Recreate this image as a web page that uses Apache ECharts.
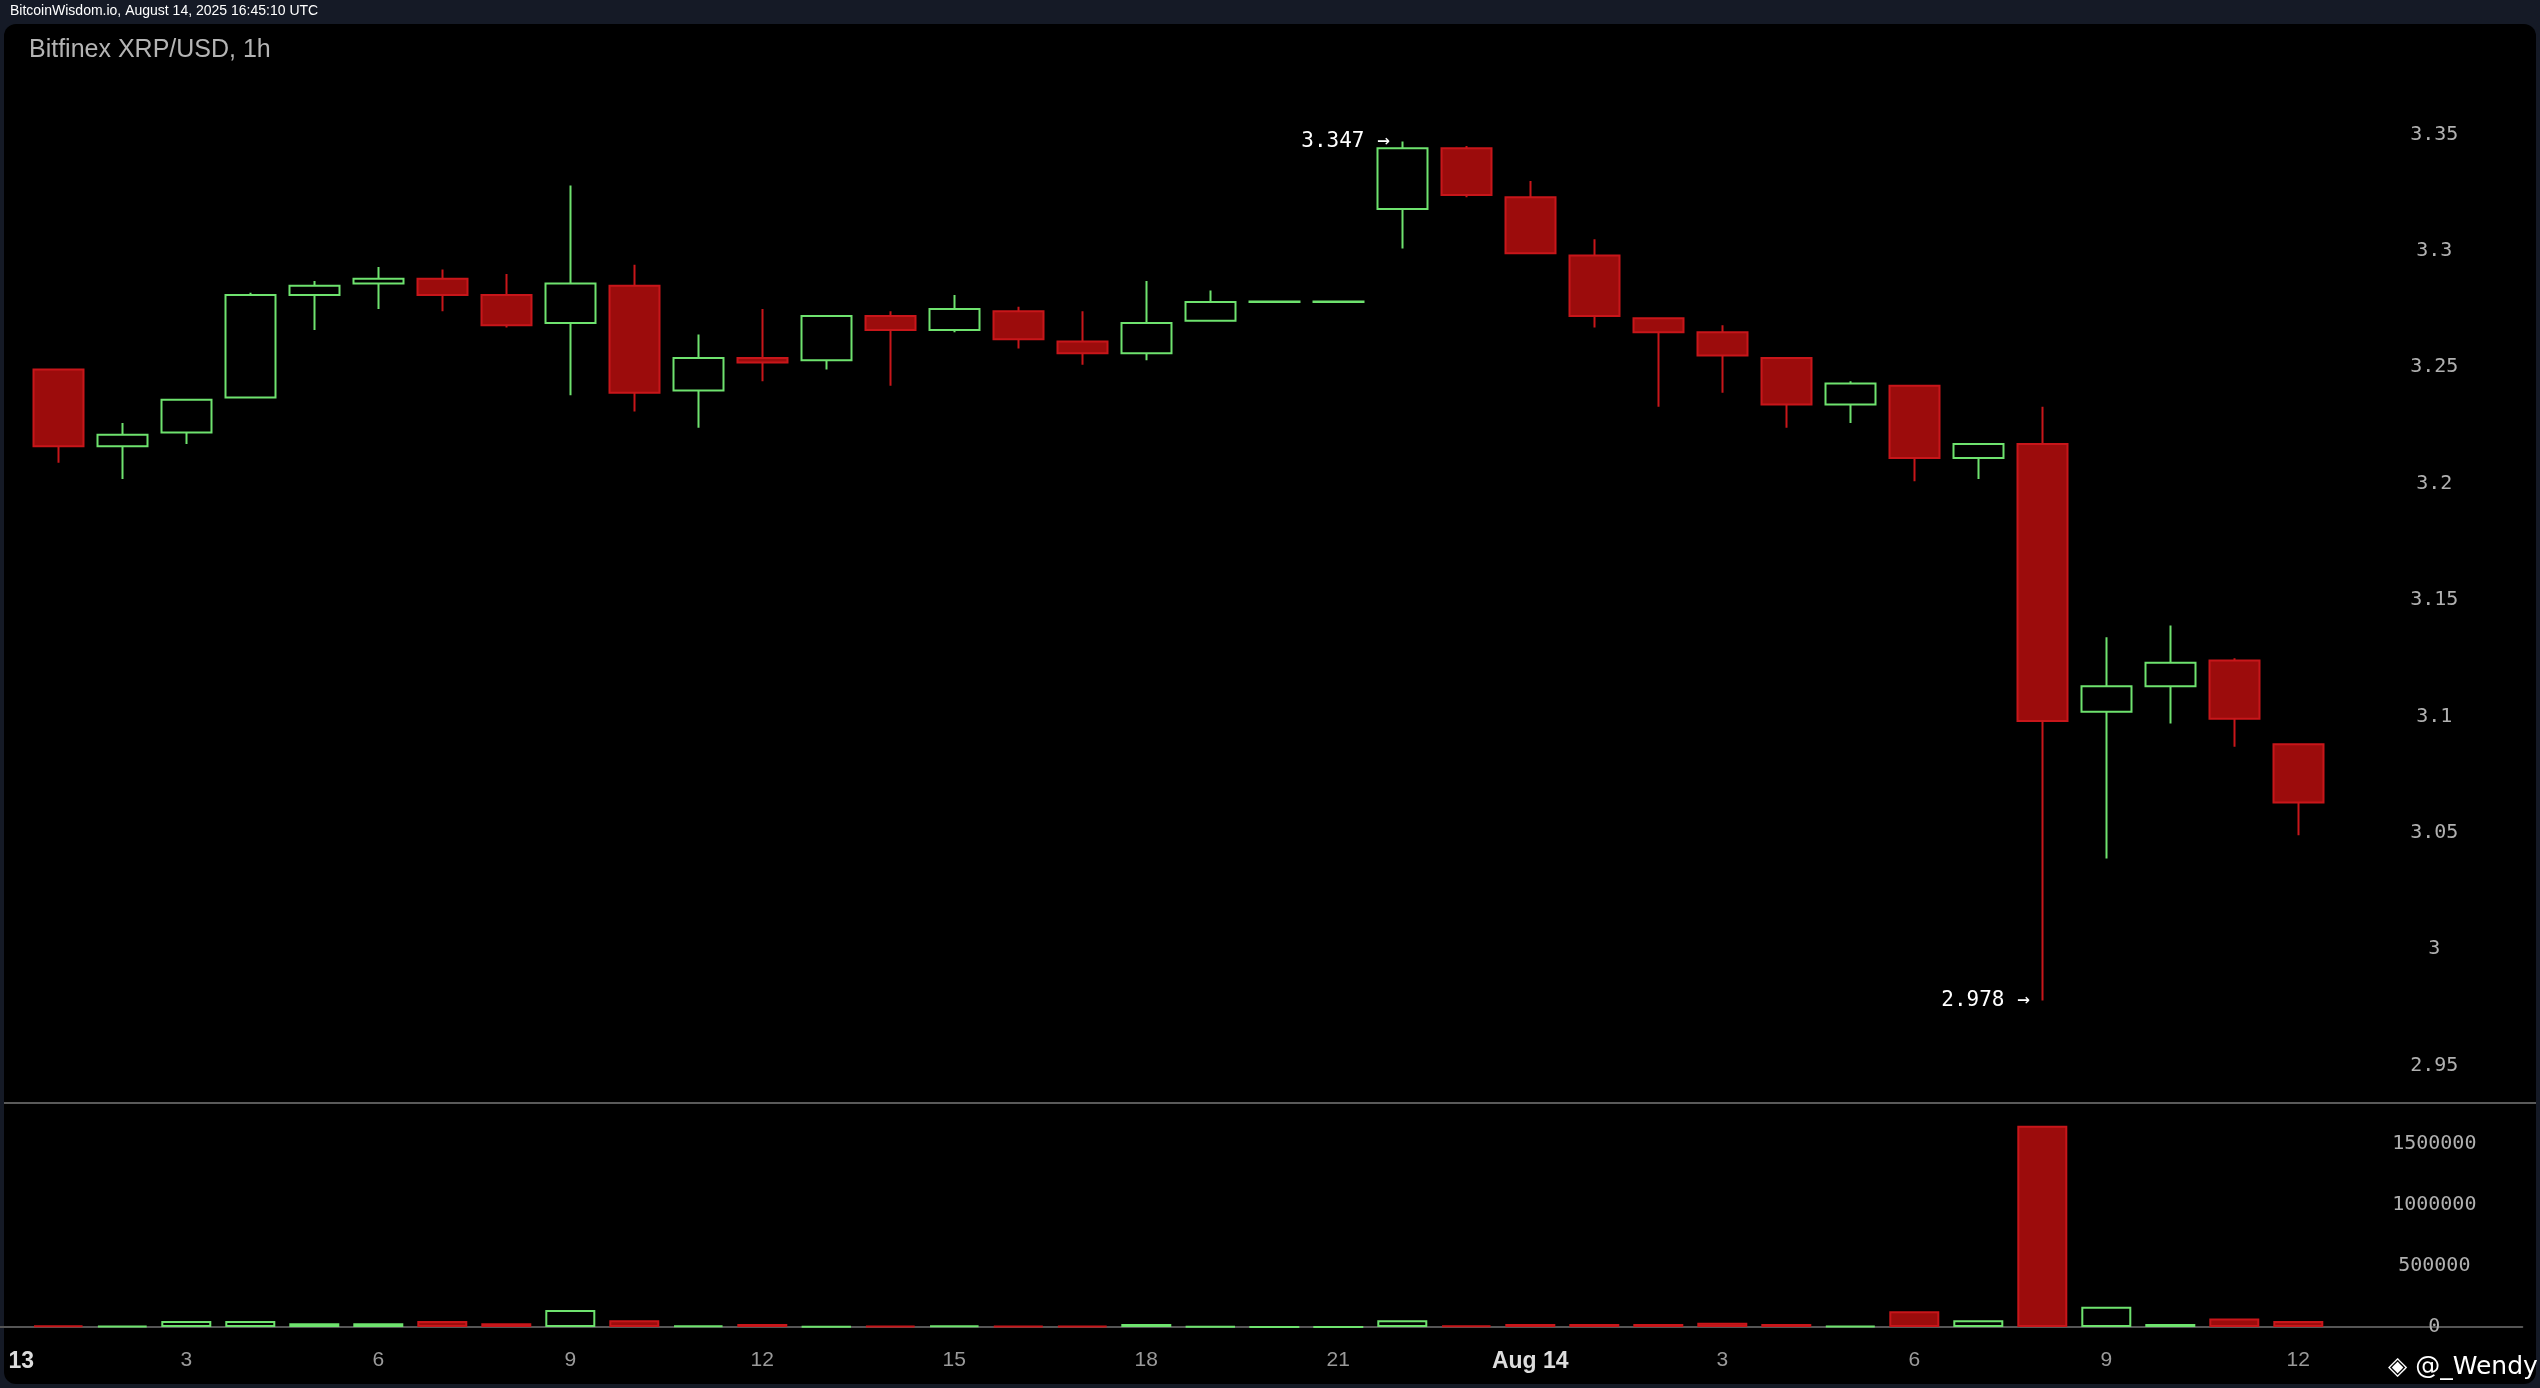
<!DOCTYPE html>
<html><head><meta charset="utf-8">
<script src="https://cdn.jsdelivr.net/npm/echarts@6/dist/echarts.min.js"></script>
<style>html,body{margin:0;padding:0;background:#151a26;overflow:hidden;width:2540px;height:1388px;}#c{position:absolute;left:-64px;top:0;width:2604px;height:1388px;}</style>
</head><body><div id="c"></div>
<script>
const hourCats = Array.from({length:40},(_,i)=>String(i));
const hours = [1,2,3,4,5,6,7,8,9,10,11,12,13,14,15,16,17,18,19,20,21,22,23,24,25,26,27,28,29,30,31,32,33,34,35,36];
const opens  = [3.249,3.216,3.222,3.237,3.281,3.286,3.288,3.281,3.269,3.285,3.240,3.254,3.253,3.272,3.266,3.274,3.261,3.256,3.270,3.278,3.278,3.318,3.344,3.323,3.298,3.271,3.265,3.254,3.234,3.242,3.211,3.217,3.102,3.113,3.124,3.088];
const closes = [3.216,3.221,3.236,3.281,3.285,3.288,3.281,3.268,3.286,3.239,3.254,3.252,3.272,3.266,3.275,3.262,3.256,3.269,3.278,3.2782,3.2782,3.344,3.324,3.299,3.272,3.265,3.255,3.234,3.243,3.211,3.217,3.098,3.113,3.123,3.099,3.063];
const highs  = [3.249,3.226,3.236,3.282,3.287,3.293,3.292,3.290,3.328,3.294,3.264,3.275,3.272,3.274,3.281,3.276,3.274,3.287,3.283,3.2785,3.2785,3.347,3.345,3.330,3.305,3.271,3.268,3.254,3.244,3.242,3.217,3.233,3.134,3.139,3.125,3.088];
const lows   = [3.209,3.202,3.217,3.237,3.266,3.275,3.274,3.267,3.238,3.231,3.224,3.244,3.249,3.242,3.265,3.258,3.251,3.253,3.270,3.2778,3.2778,3.301,3.323,3.299,3.267,3.233,3.239,3.224,3.226,3.201,3.202,2.978,3.039,3.097,3.087,3.049];
const volumes = [12000,10000,50000,50000,30000,30000,50000,30000,140000,55000,12000,25000,5000,10000,12000,8000,10000,25000,5000,0,0,55000,12000,25000,25000,25000,35000,25000,8000,130000,55000,1650000,165000,25000,70000,50000];
const priceTicks = [2.95,3,3.05,3.1,3.15,3.2,3.25,3.3,3.35];
const volTicks = [0,500000,1000000,1500000];

const UP='#6ee26e', DOWNF='#9c0c0c', DOWNB='#c8161a';
const candle = hourCats.map(()=>'-');
const vol = hourCats.map(()=>'-');
hours.forEach((h,i)=>{
  candle[h]=[opens[i],closes[i],lows[i],highs[i]];
  const up=closes[i]>=opens[i];
  vol[h]={value:volumes[i],itemStyle:{color:up?'#000':DOWNF,borderColor:up?UP:DOWNB,borderWidth:2}};
});
const mono='DejaVu Sans Mono';
const OX=64;
const ch = echarts.init(document.getElementById('c'));
const xLab = {show:true,color:'#9a9a9a',fontSize:21,fontFamily:'Liberation Sans',margin:17,
  interval:(i)=>i%3===0 && i<=36,
  formatter:(v)=>{const h=+v; if(h===0) return '{c|13}'; if(h===24) return '{b|Aug 14}'; return h<24?String(h):String(h-24);},
  rich:{b:{color:'#dddddd',fontSize:23,fontWeight:'bold',fontFamily:'Liberation Sans'},
        c:{color:'#dddddd',fontSize:23,fontWeight:'bold',fontFamily:'Liberation Sans',padding:[0,0,0,54]}}};
const yLab = {inside:true,margin:88,align:'center',color:'#b0b0b0',fontSize:20,fontFamily:mono};
ch.setOption({
  backgroundColor:'#151a26',
  animation:false,
  graphic:[
    {type:'rect',shape:{x:OX+4,y:24,width:2532,height:1360,r:12},style:{fill:'#000'},z:-10},
    {type:'text',left:OX+10,top:4,style:{text:'BitcoinWisdom.io, August 14, 2025 16:45:10 UTC',fill:'#ffffff',font:'14px Liberation Sans'}},
    {type:'text',left:OX+29,top:38,style:{text:'Bitfinex XRP/USD, 1h',fill:'#b4b4b4',font:'25px Liberation Sans'}},
    {type:'line',shape:{x1:OX+4,y1:1103,x2:OX+2536,y2:1103},style:{stroke:'#5a5a5a',lineWidth:2}},
    {type:'text',left:OX+2388,top:1355,style:{text:'◈ @_Wendy',fill:'#ffffff',font:'25px DejaVu Sans'}}
  ],
  grid:[{left:OX-37.7,right:17.7,top:18,height:1164},{left:OX-37.7,right:17.7,top:1083,height:323}],
  xAxis:[
    {type:'category',gridIndex:0,data:hourCats,axisLine:{show:false},axisTick:{show:false},axisLabel:{show:false},splitLine:{show:false}},
    {type:'category',gridIndex:1,data:hourCats,offset:-55,axisLine:{show:true,lineStyle:{color:'#555',width:2}},
     axisTick:{show:false},axisLabel:xLab,splitLine:{show:false}}
  ],
  yAxis:[
    {type:'value',gridIndex:0,position:'right',min:2.9,max:3.4,interval:0.05,axisLine:{show:false},axisTick:{show:false},splitLine:{show:false},
     axisLabel:Object.assign({formatter:v=>{const r=Math.round(v*100)/100; return priceTicks.some(t=>Math.abs(t-r)<1e-6)?String(r):'';}},yLab)},
    {type:'value',gridIndex:1,position:'right',min:-500000,max:2000000,interval:500000,axisLine:{show:false},axisTick:{show:false},splitLine:{show:false},
     axisLabel:Object.assign({formatter:v=>volTicks.includes(v)?String(v):''},yLab)}
  ],
  series:[
    {type:'candlestick',xAxisIndex:0,yAxisIndex:0,barWidth:50,data:candle,
     itemStyle:{color:'#000',color0:DOWNF,borderColor:UP,borderColor0:DOWNB,borderWidth:2},
     markPoint:{symbol:'circle',symbolSize:1,itemStyle:{color:'transparent'},
       label:{show:true,position:'left',distance:12,color:'#ffffff',fontSize:21,fontFamily:mono},
       data:[{coord:['22',3.347],label:{formatter:'3.347 →'}},{coord:['32',2.978],label:{formatter:'2.978 →'}}]}},
    {type:'bar',xAxisIndex:1,yAxisIndex:1,barWidth:50,data:vol}
  ]
});
</script></body></html>
